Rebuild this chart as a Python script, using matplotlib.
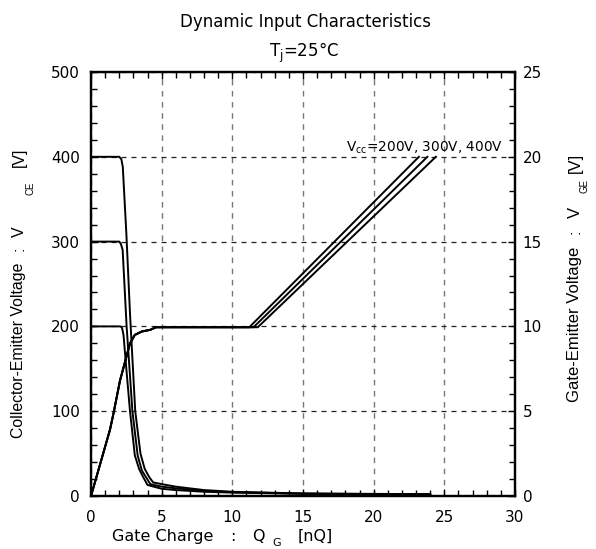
import matplotlib

matplotlib.use("Agg")
import matplotlib.pyplot as plt
from matplotlib.ticker import MultipleLocator

plt.rcParams["font.family"] = ["DejaVu Sans"]
plt.rcParams["mathtext.default"] = "regular"

# --- Data --------------------------------------------------------------------
# Collector-emitter voltage (left axis, V) vs gate charge (nQ)
qg_vce_200 = [0, 2.1, 2.2, 2.3, 2.5, 2.76, 3.1, 3.4, 3.7, 4.0, 5, 6, 8, 10, 15, 20, 24]
vce_200 = [200, 200, 198, 190, 150, 100, 48, 32, 22, 13, 8.5, 7, 5, 4, 2.6, 2.1, 1.9]

qg_vce_300 = [0, 2.0, 2.12, 2.24, 2.52, 2.93, 3.3, 3.6, 3.9, 4.2, 5, 6, 8, 10, 15, 20, 24]
vce_300 = [300, 300, 297, 290, 200, 100, 48, 30, 22, 14, 11, 9, 6, 4.5, 2.8, 2.3, 2.0]

qg_vce_400 = [0, 2.0, 2.15, 2.25, 2.5, 2.76, 3.13, 3.5, 3.8, 4.13, 4.4, 5, 6, 8, 10, 15, 20, 24]
vce_400 = [400, 400, 397, 388, 310, 215, 100, 50, 32, 22, 16, 14, 11, 7, 5, 3, 2.5, 2.2]

# Gate-emitter voltage (right axis, V): common turn-on, then plateau + rise
qg_vge_start = [0, 1.34, 1.6, 2.05, 2.76, 3.1, 3.6, 4.2, 4.6]
vge_start = [0, 3.9, 4.9, 6.8, 9.0, 9.5, 9.7, 9.8, 9.95]
plateau_end = {"200V": 11.2, "300V": 11.5, "400V": 11.8}
rise_end = {"200V": 23.2, "300V": 23.8, "400V": 24.4}
vge_plateau = 9.95
vge_final = 20.0

W, H = 596, 549
fig = plt.figure(figsize=(W / 100, H / 100), dpi=100)
ax = fig.add_axes([91 / W, 1 - 496 / H, 424 / W, 424 / H])
ax2 = ax.twinx()


def ftext(px, py, s, **kw):
    """Place a text at picture pixel coordinates (origin top-left)."""
    return fig.text(px / W, 1 - py / H, s, **kw)


for q, v in [(qg_vce_200, vce_200), (qg_vce_300, vce_300), (qg_vce_400, vce_400)]:
    ax.plot(q, v, color="black", lw=1.4, zorder=3)

for key in ["200V", "300V", "400V"]:
    q = qg_vge_start + [plateau_end[key], rise_end[key]]
    v = vge_start + [vge_plateau, vge_final]
    ax2.plot(q, v, color="black", lw=1.4, zorder=3)

ax.set_xlim(0, 30)
ax.set_ylim(0, 500)
ax2.set_ylim(0, 25)

ax.xaxis.set_major_locator(MultipleLocator(5))
ax.xaxis.set_minor_locator(MultipleLocator(1))
ax.yaxis.set_major_locator(MultipleLocator(100))
ax.yaxis.set_minor_locator(MultipleLocator(20))
ax2.yaxis.set_major_locator(MultipleLocator(5))
ax2.yaxis.set_minor_locator(MultipleLocator(1))

ax.tick_params(which="both", direction="in", top=True, labelsize=11, width=1.0)
ax.tick_params(which="major", length=5)
ax.tick_params(which="minor", length=4)
ax.tick_params(axis="x", which="major", pad=10)
ax.tick_params(axis="y", which="major", pad=8)
ax2.tick_params(which="both", direction="in", labelsize=11, width=1.0)
ax2.tick_params(which="major", length=5, pad=5.5)
ax2.tick_params(which="minor", length=4)

ax.xaxis.grid(True, which="major", ls=(0, (4, 4)), color="#777777", lw=1.0)
ax.yaxis.grid(True, which="major", ls=(0, (4, 4)), color="#222222", lw=0.9)
ax.set_axisbelow(True)

for sp in list(ax.spines.values()) + list(ax2.spines.values()):
    sp.set_linewidth(1.6)

ax.text(29.15, 406, r"V$_{cc}$=200V, 300V, 400V", fontsize=9.8, ha="right", va="baseline")

# titles
ftext(305, 27, "Dynamic Input Characteristics", fontsize=12, ha="center", va="baseline")
ftext(304, 57, r"T$_j$=25°C", fontsize=12, ha="center", va="baseline")

# x label, laid out in pieces like the reference
xl = dict(fontsize=11.5, va="baseline")
ftext(112, 541, "Gate Charge", ha="left", **xl)
ftext(233, 541, ":", ha="center", **xl)
ftext(252, 541, "Q", ha="left", **xl)
ftext(272, 546, "G", ha="left", fontsize=8, va="baseline")
ftext(298, 541, "[nQ]", ha="left", **xl)

# y labels (rotated), also in pieces
yl = dict(rotation=90, ha="center", va="center", family=["Liberation Sans", "DejaVu Sans"])
ftext(19, 350, "Collector-Emitter Voltage", fontsize=11.4, **yl)
ftext(19, 249, ":", fontsize=11.4, **yl)
ftext(19, 232, "V", fontsize=11.4, **yl)
ftext(30, 188, "CE", fontsize=7, **yl)
ftext(19, 157, "[V]", fontsize=11.4, **yl)

ftext(575, 324.5, "Gate-Emitter Voltage", fontsize=12, **yl)
ftext(575, 232, ":", fontsize=12, **yl)
ftext(575, 212, "V", fontsize=12, **yl)
ftext(585, 186, "GE", fontsize=7, **yl)
ftext(575, 163, "[V]", fontsize=12, **yl)

fig.savefig("out.png", dpi=100)
